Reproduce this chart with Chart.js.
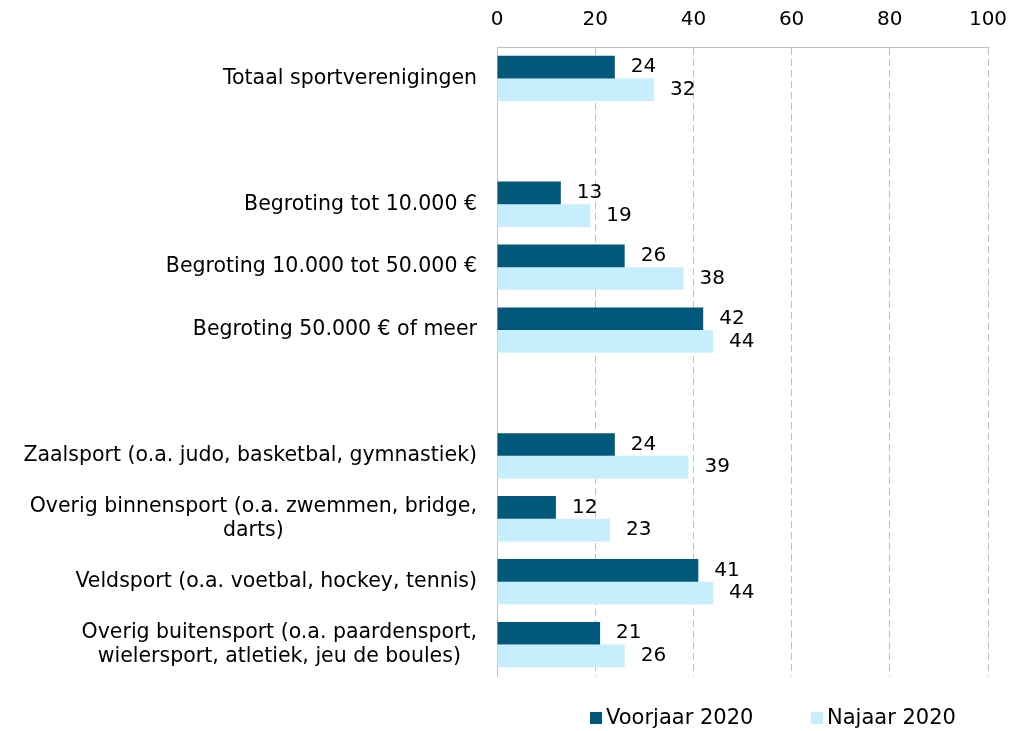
<!DOCTYPE html>
<html>
<head>
<meta charset="utf-8">
<script src="https://cdn.jsdelivr.net/npm/chart.js@4.4.0/dist/chart.umd.min.js"></script>
<style>
html, body { margin: 0; padding: 0; background: #fff; overflow: hidden; }
#wrap { position: relative; width: 1026px; height: 731px; }
#legend { position: absolute; left: 0; top: 705px; width: 1026px; font: 21px "DejaVu Sans", sans-serif; color: #000; }
#legend .item { position: absolute; white-space: nowrap; line-height: 24px; }
#legend .sw { display: inline-block; width: 12px; height: 12px; margin-right: 4px; }
</style>
</head>
<body>
<div id="wrap">
  <canvas id="chart" width="1026" height="731"></canvas>
  <div id="legend"></div>
</div>
<script>
// categories (empty strings are the gaps between groups)
const categories = [
  'Totaal sportverenigingen',
  '',
  'Begroting tot 10.000 €',
  'Begroting 10.000 tot 50.000 €',
  'Begroting 50.000 € of meer',
  '',
  'Zaalsport (o.a. judo, basketbal, gymnastiek)',
  ['Overig binnensport (o.a. zwemmen, bridge,', 'darts)'],
  'Veldsport (o.a. voetbal, hockey, tennis)',
  ['Overig buitensport (o.a. paardensport,', 'wielersport, atletiek, jeu de boules)']
];
const voorjaar = [24, null, 13, 26, 42, null, 24, 12, 41, 21];
const najaar   = [32, null, 19, 38, 44, null, 39, 23, 44, 26];
const seriesNames = ['Voorjaar 2020', 'Najaar 2020'];
const xTicks = [0, 20, 40, 60, 80, 100];

const DARK = '#02587a';
const LIGHT = '#c7eefc';
const FONT = '"DejaVu Sans", sans-serif';

// category labels: right aligned block, lines centred inside the block
const catLabels = {
  id: 'catLabels',
  afterDraw(chart) {
    const ctx = chart.ctx, ys = chart.scales.y;
    ctx.save();
    ctx.font = '20.5px ' + FONT;
    ctx.fillStyle = '#000';
    ctx.textBaseline = 'middle';
    ctx.textAlign = 'center';
    const right = chart.chartArea.left - 20;
    categories.forEach((lab, i) => {
      if (!lab) return;
      const lines = Array.isArray(lab) ? lab : [lab];
      const w = Math.max(...lines.map(l => ctx.measureText(l).width));
      const cy = ys.getPixelForValue(i);
      lines.forEach((l, k) => {
        ctx.fillText(l, right - w / 2, cy + (k - (lines.length - 1) / 2) * 24);
      });
    });
    ctx.restore();
  }
};

// value labels to the right of each bar
const valueLabels = {
  id: 'valueLabels',
  afterDatasetsDraw(chart) {
    const ctx = chart.ctx;
    ctx.save();
    ctx.font = '20px ' + FONT;
    ctx.fillStyle = '#000';
    ctx.textBaseline = 'middle';
    ctx.textAlign = 'left';
    chart.data.datasets.forEach((ds, di) => {
      chart.getDatasetMeta(di).data.forEach((bar, i) => {
        const v = ds.data[i];
        if (v == null) return;
        ctx.fillText(String(v), bar.x + 16, bar.y);
      });
    });
    ctx.restore();
  }
};

new Chart(document.getElementById('chart'), {
  type: 'bar',
  data: {
    labels: categories,
    datasets: [
      { label: seriesNames[0], data: voorjaar, backgroundColor: DARK, borderWidth: 0 },
      { label: seriesNames[1], data: najaar, backgroundColor: LIGHT, borderWidth: 0 }
    ]
  },
  options: {
    indexAxis: 'y',
    responsive: false,
    animation: false,
    devicePixelRatio: 1,
    datasets: { bar: { barPercentage: 1, categoryPercentage: 0.72 } },
    layout: { padding: { top: 0, right: 38, bottom: 55, left: 0 } },
    scales: {
      x: {
        position: 'top',
        min: 0, max: 100,
        afterBuildTicks: s => { s.ticks = xTicks.map(v => ({ value: v })); },
        afterFit: s => { s.height = 47; },
        ticks: { color: '#000', font: { family: FONT, size: 20 }, padding: 15 },
        grid: { color: '#c0c0c0', lineWidth: 1, drawTicks: false },
        border: { display: true, color: '#c0c0c0', dash: [7, 4] }
      },
      y: {
        afterFit: s => { s.width = 497; },
        ticks: { display: false },
        grid: { display: false },
        border: { display: true, color: '#c0c0c0' }
      }
    },
    plugins: {
      legend: { display: false },
      tooltip: { enabled: false }
    }
  },
  plugins: [valueLabels, catLabels]
});

// legend under the chart
const legendEl = document.getElementById('legend');
[[seriesNames[0], DARK, 590], [seriesNames[1], LIGHT, 811]].forEach(([name, col, left]) => {
  const it = document.createElement('div');
  it.className = 'item';
  it.style.left = left + 'px';
  it.innerHTML = '<span class="sw" style="background:' + col + '"></span>' + name;
  legendEl.appendChild(it);
});
</script>
</body>
</html>
